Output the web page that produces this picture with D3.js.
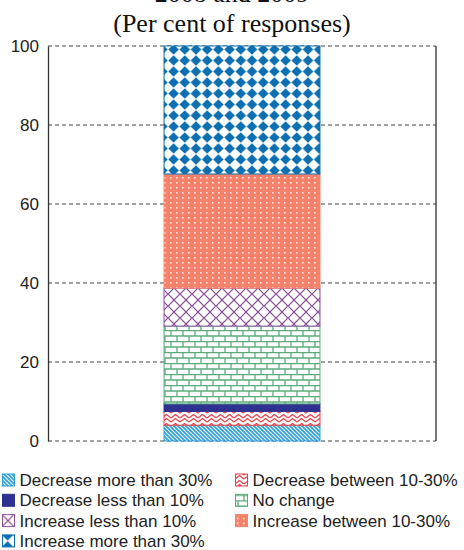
<!DOCTYPE html>
<html><head><meta charset="utf-8">
<script src="https://cdn.jsdelivr.net/npm/d3@7"></script>
<style>body{margin:0;background:#fff}svg{display:block}</style>
</head><body>
<script>
const titleLines = ["2008 and 2009", "(Per cent of responses)"];
const categories = ["Decrease more than 30%","Decrease between 10-30%","Decrease less than 10%","No change","Increase less than 10%","Increase between 10-30%","Increase more than 30%"];
const values = [4.0, 3.5, 1.9, 19.7, 9.6, 28.9, 32.4];
const yTicks = [0, 20, 40, 60, 80, 100];
const legendOrder = [0, 1, 2, 3, 4, 5, 6];
const colors = ["#2a9fd8","#e8424b","#2e3192","#5aab7a","#8a4f9a","#f5826b","#0b6fb1"];

const W = 464, H = 550;
const svg = d3.select("body").append("svg").attr("width", W).attr("height", H);
const defs = svg.append("defs");

function pat(id, w, h){ return defs.append("pattern").attr("id", id).attr("patternUnits","userSpaceOnUse").attr("width", w).attr("height", h); }
// 0 diagonal stripes
{ const p = pat("p0", 4, 4);
  p.append("rect").attr("width",4).attr("height",4).attr("fill","#fff");
  p.append("path").attr("d","M-1,-1L5,5M-1,3L1,5M3,-1L5,1").attr("stroke",colors[0]).attr("stroke-width",1.7); }
// 1 zigzag
{ const p = pat("p1", 9, 9);
  p.append("rect").attr("width",9).attr("height",9).attr("fill","#fff");
  p.append("path").attr("d","M0,4L4.5,0.5L9,4M0,8L4.5,4.5L9,8").attr("fill","none").attr("stroke",colors[1]).attr("stroke-width",1.3); }
// 2 solid
{ const p = pat("p2", 4, 4); p.append("rect").attr("width",4).attr("height",4).attr("fill",colors[2]); }
// 3 bricks
{ const p = pat("p3", 12, 11);
  p.append("rect").attr("width",12).attr("height",11).attr("fill","#fff");
  p.append("path").attr("d","M0,0.5H12M0,6H12M3,0V6M9,6V11").attr("stroke",colors[3]).attr("stroke-width",1.3); }
// 4 lattice
{ const p = pat("p4", 12, 12);
  p.append("rect").attr("width",12).attr("height",12).attr("fill","#fff");
  p.append("path").attr("d","M0,6L6,0L12,6L6,12Z").attr("fill","none").attr("stroke",colors[4]).attr("stroke-width",1.2); }
// 5 dotted salmon
{ const p = pat("p5", 6, 10);
  p.append("rect").attr("width",6).attr("height",10).attr("fill",colors[5]);
  p.append("rect").attr("x",2).attr("y",2).attr("width",1.6).attr("height",1.6).attr("fill","#fde3dc");
  p.append("rect").attr("x",2).attr("y",7).attr("width",1.6).attr("height",1.6).attr("fill","#fde3dc"); }
// 6 diamonds
{ const p = pat("p6", 11.2, 11);
  p.append("rect").attr("width",11.2).attr("height",11).attr("fill","#fff");
  p.append("path").attr("d","M5.6,0.3L10.9,5.5L5.6,10.7L0.3,5.5Z").attr("fill",colors[6]); }

const x0 = 48, x1 = 436, yTop = 46, yBot = 441;
const y = d3.scaleLinear().domain([0, 100]).range([yBot, yTop]);
const x = d3.scaleBand().domain(["all"]).range([x0, x1]).paddingInner(0).paddingOuter(0.744);

// title
svg.append("text").attr("x", 232).attr("y", 2).attr("text-anchor","middle")
  .attr("font-family","Liberation Serif, serif").attr("font-size",26).attr("fill","#111").text(titleLines[0]);
svg.append("text").attr("x", 232).attr("y", 32).attr("text-anchor","middle")
  .attr("font-family","Liberation Serif, serif").attr("font-size",26).attr("fill","#111").text(titleLines[1]);

// gridlines
const grid = svg.append("g");
grid.selectAll("line").data(yTicks).join("line")
  .attr("x1", x0).attr("x2", x1).attr("y1", d => y(d)).attr("y2", d => y(d))
  .attr("stroke", "#444").attr("stroke-width", 1).attr("stroke-dasharray", "4,3");

// stacked bar
let cum = 0;
const stack = values.map((v, i) => { const s = {i, y0: cum, y1: cum + v}; cum += v; return s; });
svg.append("g").selectAll("rect").data(stack).join("rect")
  .attr("x", x("all")).attr("width", x.bandwidth())
  .attr("y", d => y(d.y1)).attr("height", d => y(d.y0) - y(d.y1))
  .attr("fill", d => `url(#p${d.i})`)
  .attr("stroke", d => colors[d.i]).attr("stroke-width", 1);

// axes
const axis = svg.append("g").attr("transform", `translate(${x0},0)`)
  .call(d3.axisLeft(y).tickValues(yTicks).tickSize(0).tickPadding(9));
axis.select(".domain").attr("stroke", "#333").attr("stroke-width", 1.3);
axis.selectAll("text").attr("font-family","Liberation Sans, Arial, sans-serif").attr("font-size", 17).attr("fill","#222");
svg.append("line").attr("x1", x1).attr("x2", x1).attr("y1", yTop).attr("y2", yBot).attr("stroke","#333").attr("stroke-width",1.3);

// legend
const lg = svg.append("g");
const items = lg.selectAll("g").data(legendOrder).join("g")
  .attr("transform", (d, k) => `translate(${k % 2 === 0 ? 2 : 235},${480 + Math.floor(k / 2) * 20.3})`);
items.append("rect").attr("x", 0.5).attr("y", -6).attr("width", 12).attr("height", 12)
  .attr("fill", d => `url(#p${d})`).attr("stroke", d => colors[d]).attr("stroke-width", 1);
items.append("text").attr("x", 17.5).attr("y", 6)
  .attr("font-family","Liberation Sans, Arial, sans-serif").attr("font-size", 17).attr("fill","#222")
  .text(d => categories[d]);
</script>
</body></html>
